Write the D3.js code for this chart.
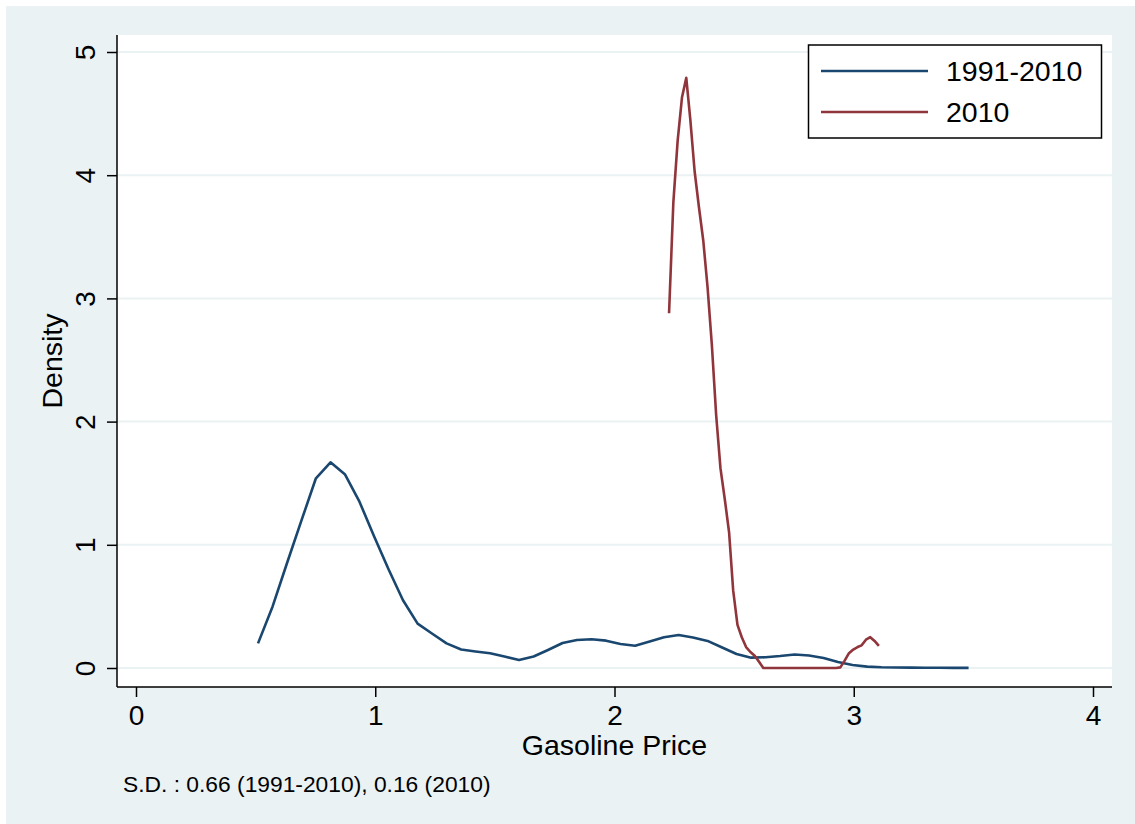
<!DOCTYPE html>
<html>
<head>
<meta charset="utf-8">
<script src="https://cdn.jsdelivr.net/npm/d3@7"></script>
<style>
  body { margin: 0; background: #fff; }
  svg { display: block; font-family: "Liberation Sans", Arial, sans-serif; }
</style>
</head>
<body>
<div id="chart"></div>
<script>
// kdensity evaluation points
const allYearsX = [0.510, 0.571, 0.631, 0.692, 0.752, 0.813, 0.874, 0.934, 0.995, 1.056,
  1.116, 1.177, 1.237, 1.298, 1.359, 1.419, 1.480, 1.540, 1.601, 1.662,
  1.722, 1.783, 1.843, 1.904, 1.965, 2.025, 2.086, 2.147, 2.207, 2.268,
  2.328, 2.389, 2.450, 2.510, 2.571, 2.631, 2.692, 2.753, 2.813, 2.874,
  2.934, 2.995, 3.056, 3.116, 3.177, 3.238, 3.298, 3.359, 3.419, 3.480];
const allYearsY = [0.20, 0.50, 0.85, 1.20, 1.54, 1.67, 1.57, 1.35, 1.07, 0.80,
  0.55, 0.36, 0.28, 0.20, 0.15, 0.134, 0.12, 0.093, 0.065, 0.093,
  0.146, 0.203, 0.227, 0.233, 0.222, 0.195, 0.181, 0.215, 0.25, 0.268,
  0.248, 0.22, 0.166, 0.114, 0.084, 0.087, 0.097, 0.11, 0.101, 0.081,
  0.049, 0.024, 0.011, 0.006, 0.004, 0.003, 0.002, 0.002, 0.001, 0.001];

const y2010X = [2.228, 2.246, 2.264, 2.282, 2.300, 2.317, 2.335, 2.353, 2.371, 2.389,
  2.407, 2.425, 2.443, 2.461, 2.479, 2.496, 2.514, 2.532, 2.550, 2.568,
  2.586, 2.604, 2.622, 2.640, 2.658, 2.675, 2.693, 2.711, 2.729, 2.747,
  2.765, 2.783, 2.801, 2.819, 2.837, 2.854, 2.872, 2.890, 2.908, 2.926,
  2.944, 2.962, 2.980, 2.998, 3.016, 3.033, 3.051, 3.069, 3.087, 3.105];
const y2010Y = [2.88, 3.78, 4.28, 4.63, 4.79, 4.45, 4.03, 3.74, 3.47, 3.09,
  2.62, 2.05, 1.62, 1.37, 1.10, 0.63, 0.35, 0.25, 0.17, 0.13,
  0.10, 0.05, 0, 0, 0, 0, 0, 0, 0, 0,
  0, 0, 0, 0, 0, 0, 0, 0, 0, 0,
  0.005, 0.06, 0.12, 0.15, 0.17, 0.184, 0.23, 0.25, 0.22, 0.18];

const xTicks = [0, 1, 2, 3, 4];
const yTicks = [0, 1, 2, 3, 4, 5];
const seriesNames = ['1991-2010', '2010'];
const seriesColors = ['#1a476f', '#90353b'];
const note = 'S.D. : 0.66 (1991-2010), 0.16 (2010)';

const width = 1135;
const height = 824;
const plot = { left: 117, right: 1112, top: 35, bottom: 687 };
const fontFamily = '"Liberation Sans", Arial, sans-serif';

const svg = d3.select('#chart').append('svg')
  .attr('width', width)
  .attr('height', height);

svg.append('rect')
  .attr('x', 6).attr('y', 6)
  .attr('width', width - 6).attr('height', height - 6)
  .attr('fill', '#eaf2f3');

svg.append('rect')
  .attr('x', plot.left).attr('y', plot.top)
  .attr('width', plot.right - plot.left).attr('height', plot.bottom - plot.top)
  .attr('fill', '#fff');

const x = d3.scaleLinear().domain([0, 4]).range([136, 1093]);
const y = d3.scaleLinear().domain([0, 5]).range([668, 52]);

// grid
svg.append('g')
  .selectAll('line')
  .data(yTicks)
  .enter().append('line')
    .attr('x1', plot.left).attr('x2', plot.right)
    .attr('y1', d => y(d)).attr('y2', d => y(d))
    .attr('stroke', '#eaf2f3')
    .attr('stroke-width', 2);

// axes
const xAxis = svg.append('g')
  .attr('transform', `translate(0, ${plot.bottom})`)
  .call(d3.axisBottom(x).tickValues(xTicks).tickFormat(d3.format('d'))
    .tickSize(10).tickPadding(8).tickSizeOuter(0));
xAxis.select('.domain').remove();
xAxis.append('line')
  .attr('x1', plot.left).attr('x2', plot.right)
  .attr('stroke', '#000').attr('stroke-width', 1.5);
xAxis.selectAll('.tick line').attr('stroke-width', 1.5);
xAxis.selectAll('.tick text')
  .attr('font-size', 28)
  .attr('font-family', fontFamily)
  .attr('fill', '#000');

const yAxis = svg.append('g')
  .attr('transform', `translate(${plot.left}, 0)`)
  .call(d3.axisLeft(y).tickValues(yTicks).tickFormat(d3.format('d'))
    .tickSize(10).tickSizeOuter(0));
yAxis.select('.domain').remove();
yAxis.append('line')
  .attr('y1', plot.top).attr('y2', plot.bottom)
  .attr('stroke', '#000').attr('stroke-width', 1.5);
yAxis.selectAll('.tick line').attr('stroke-width', 1.5);
yAxis.selectAll('.tick text')
  .attr('font-size', 28)
  .attr('font-family', fontFamily)
  .attr('fill', '#000')
  .attr('x', 0).attr('dy', 0)
  .attr('text-anchor', 'middle')
  .attr('transform', 'translate(-22, 0) rotate(-90)');

// axis titles
svg.append('text')
  .attr('x', (x(0) + x(4)) / 2)
  .attr('y', 755)
  .attr('text-anchor', 'middle')
  .attr('font-size', 28.5)
  .text('Gasoline Price');

svg.append('text')
  .attr('transform', `translate(62, ${(plot.top + plot.bottom) / 2}) rotate(-90)`)
  .attr('text-anchor', 'middle')
  .attr('font-size', 28.5)
  .text('Density');

svg.append('text')
  .attr('x', 123)
  .attr('y', 792)
  .attr('font-size', 22.8)
  .text(note);

// curves
const line = d3.line()
  .x(d => x(d[0]))
  .y(d => y(d[1]));

const series = [
  d3.zip(allYearsX, allYearsY),
  d3.zip(y2010X, y2010Y)
];

svg.append('g')
  .selectAll('path')
  .data(series)
  .enter().append('path')
    .attr('d', line)
    .attr('fill', 'none')
    .attr('stroke', (d, i) => seriesColors[i])
    .attr('stroke-width', 2.6)
    .attr('stroke-linejoin', 'round');

// legend
const legend = svg.append('g');
legend.append('rect')
  .attr('x', 808.5).attr('y', 45)
  .attr('width', 293).attr('height', 93)
  .attr('fill', '#fff')
  .attr('stroke', '#000')
  .attr('stroke-width', 1.5);

const item = legend.selectAll('.item')
  .data(seriesNames)
  .enter().append('g')
    .attr('class', 'item')
    .attr('transform', (d, i) => `translate(0, ${71 + i * 41})`);

item.append('line')
  .attr('x1', 821).attr('x2', 928)
  .attr('stroke', (d, i) => seriesColors[i])
  .attr('stroke-width', 2.6);

item.append('text')
  .attr('x', 946)
  .attr('dy', '0.35em')
  .attr('font-size', 28.5)
  .text(d => d);
</script>
</body>
</html>
